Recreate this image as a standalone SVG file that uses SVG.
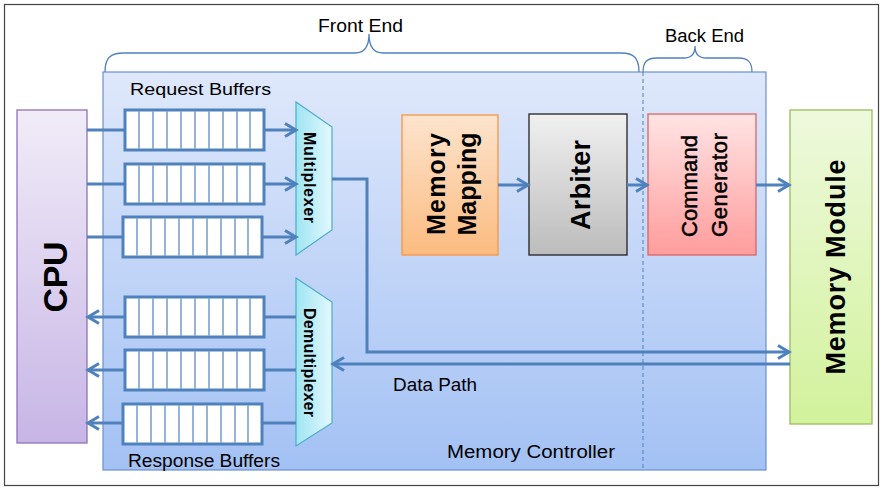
<svg xmlns="http://www.w3.org/2000/svg" width="882" height="489" viewBox="0 0 882 489">
<style>
.lbl{font-family:"Liberation Sans",Arial,sans-serif;fill:#000}
.bold{font-family:"Liberation Sans",Arial,sans-serif;font-weight:bold;fill:#000}
.conn{stroke:#4f81bd;stroke-width:3;fill:none}
.brace{stroke:#4f81bd;stroke-width:1.3;fill:none}
.bufo{fill:#fff;stroke:#4f81bd;stroke-width:3}
.bufd{stroke:#4f81bd;stroke-width:1.2}
</style>
<defs>
<linearGradient id="gMC" x1="0" y1="0" x2="0" y2="1"><stop offset="0" stop-color="#dfe8fb"/><stop offset="1" stop-color="#a3c1f4"/></linearGradient>
<linearGradient id="gCPU" x1="0" y1="0" x2="0" y2="1"><stop offset="0" stop-color="#f1ecf8"/><stop offset="1" stop-color="#c7b5e6"/></linearGradient>
<linearGradient id="gMM" x1="0" y1="0" x2="0" y2="1"><stop offset="0" stop-color="#eef9dd"/><stop offset="1" stop-color="#d2f29c"/></linearGradient>
<linearGradient id="gMap" x1="0" y1="0" x2="0" y2="1"><stop offset="0" stop-color="#fde4cd"/><stop offset="1" stop-color="#fbbb80"/></linearGradient>
<linearGradient id="gArb" x1="0" y1="0" x2="0" y2="1"><stop offset="0" stop-color="#f0f0f0"/><stop offset="1" stop-color="#bcbcbc"/></linearGradient>
<linearGradient id="gCG" x1="0" y1="0" x2="0" y2="1"><stop offset="0" stop-color="#ffe4e4"/><stop offset="1" stop-color="#ff9c9c"/></linearGradient>
<linearGradient id="gMux" x1="0" y1="0" x2="1" y2="0"><stop offset="0" stop-color="#9fe5f3"/><stop offset="1" stop-color="#e2f8fd"/></linearGradient>
<marker id="arr" markerUnits="userSpaceOnUse" viewBox="0 0 16 16" markerWidth="16" markerHeight="16" refX="13" refY="8" orient="auto">
<path d="M2,1.5 L13,8 L2,14.5" fill="none" stroke="#4f81bd" stroke-width="3"/>
</marker>
<g id="buf">
<rect class="bufo" x="0" y="0" width="139" height="40"/>
<g class="bufd">
<line x1="14" y1="1.5" x2="14" y2="38.5"/><line x1="28" y1="1.5" x2="28" y2="38.5"/><line x1="42" y1="1.5" x2="42" y2="38.5"/>
<line x1="56" y1="1.5" x2="56" y2="38.5"/><line x1="70" y1="1.5" x2="70" y2="38.5"/><line x1="84" y1="1.5" x2="84" y2="38.5"/>
<line x1="98" y1="1.5" x2="98" y2="38.5"/><line x1="112" y1="1.5" x2="112" y2="38.5"/><line x1="125" y1="1.5" x2="125" y2="38.5"/>
</g>
</g>
</defs>

<rect x="4.5" y="4.5" width="874" height="481" fill="#fff" stroke="#444" stroke-width="1.2"/>

<g id="braces">
<path class="brace" d="M105,72 C105,58 110,53 124,53 L355,53 C364,53 369,47 369,34 C369,47 374,53 383,53 L621,53 C634,53 639,58 639,72"/>
<path class="brace" d="M643,72 C643,62 647,58 657,58 L684,58 C691,58 695,54 695,46 C695,54 699,58 706,58 L739,58 C748,58 752,62 752,72"/>
<text class="lbl" x="318" y="32" textLength="85" lengthAdjust="spacingAndGlyphs" font-size="17.5">Front End</text>
<text class="lbl" x="665" y="42" textLength="79" lengthAdjust="spacingAndGlyphs" font-size="17.5">Back End</text>
</g>

<g id="memory-controller">
<rect x="103" y="72" width="663" height="398" fill="url(#gMC)" stroke="#6990d0" stroke-width="1.2"/>
<line x1="643" y1="72" x2="643" y2="468" stroke="#4f81bd" stroke-width="1" stroke-dasharray="4 3"/>
<text class="lbl" x="447" y="458" textLength="168" lengthAdjust="spacingAndGlyphs" font-size="17.5">Memory Controller</text>
</g>

<g id="cpu">
<rect x="17" y="110" width="70" height="333" fill="url(#gCPU)" stroke="#8e72b8" stroke-width="1.3"/>
<text class="bold" transform="translate(67,277) rotate(-90)" text-anchor="middle" font-size="34" textLength="71">CPU</text>
</g>

<g id="memory-module">
<rect x="790" y="110" width="82" height="314" fill="url(#gMM)" stroke="#9bbb59" stroke-width="1.3"/>
<text class="bold" transform="translate(845,267) rotate(-90)" text-anchor="middle" font-size="27" textLength="215">Memory Module</text>
</g>

<g id="request-buffers">
<text class="lbl" x="130" y="95" textLength="141" lengthAdjust="spacingAndGlyphs" font-size="17">Request Buffers</text>
<use href="#buf" x="125" y="110"/>
<use href="#buf" x="125" y="164"/>
<use href="#buf" x="123" y="217"/>
</g>

<g id="response-buffers">
<use href="#buf" x="125" y="297"/>
<use href="#buf" x="125" y="350"/>
<use href="#buf" x="123" y="404"/>
<text class="lbl" x="128" y="467" textLength="152" lengthAdjust="spacingAndGlyphs" font-size="17.5">Response Buffers</text>
</g>

<g id="multiplexer">
<polygon points="296,102 332,127 332,230 296,255" fill="url(#gMux)" stroke="#4bacc6" stroke-width="1.2"/>
<text class="bold" transform="translate(304,177.5) rotate(90)" text-anchor="middle" font-size="16" textLength="91">Multiplexer</text>
</g>

<g id="demultiplexer">
<polygon points="296,278 332,302 332,423 296,446" fill="url(#gMux)" stroke="#4bacc6" stroke-width="1.2"/>
<text class="bold" transform="translate(304,362.5) rotate(90)" text-anchor="middle" font-size="16" textLength="109">Demultiplexer</text>
</g>

<g id="memory-mapping">
<rect x="402" y="115" width="96" height="140" fill="url(#gMap)" stroke="#f79646" stroke-width="1.3"/>
<text class="bold" transform="translate(445,184) rotate(-90)" text-anchor="middle" font-size="25" textLength="102">Memory</text>
<text class="bold" transform="translate(476,184) rotate(-90)" text-anchor="middle" font-size="25" textLength="103">Mapping</text>
</g>

<g id="arbiter">
<rect x="529" y="114" width="98" height="141" fill="url(#gArb)" stroke="#222" stroke-width="1.3"/>
<text class="bold" transform="translate(590,185) rotate(-90)" text-anchor="middle" font-size="27" textLength="90">Arbiter</text>
</g>

<g id="command-generator">
<rect x="648" y="114" width="108" height="141" fill="url(#gCG)" stroke="#d56767" stroke-width="1.3"/>
<text class="lbl" transform="translate(697,186) rotate(-90)" text-anchor="middle" font-size="22" textLength="102" stroke="#000" stroke-width="0.5">Command</text>
<text class="lbl" transform="translate(727,185) rotate(-90)" text-anchor="middle" font-size="22" textLength="104" stroke="#000" stroke-width="0.5">Generator</text>
</g>

<g id="connectors">
<line class="conn" x1="87" y1="130" x2="125" y2="130"/>
<line class="conn" x1="87" y1="184" x2="125" y2="184"/>
<line class="conn" x1="87" y1="237" x2="123" y2="237"/>
<line class="conn" x1="264" y1="130" x2="296" y2="130" marker-end="url(#arr)"/>
<line class="conn" x1="264" y1="184" x2="296" y2="184" marker-end="url(#arr)"/>
<line class="conn" x1="262" y1="237" x2="296" y2="237" marker-end="url(#arr)"/>
<line class="conn" x1="296" y1="317" x2="264" y2="317"/>
<line class="conn" x1="296" y1="370" x2="264" y2="370"/>
<line class="conn" x1="296" y1="423" x2="262" y2="423"/>
<line class="conn" x1="125" y1="317" x2="88" y2="317" marker-end="url(#arr)"/>
<line class="conn" x1="125" y1="370" x2="88" y2="370" marker-end="url(#arr)"/>
<line class="conn" x1="123" y1="423" x2="88" y2="423" marker-end="url(#arr)"/>
<polyline class="conn" points="332,179 367,179 367,352 789,352" marker-end="url(#arr)"/>
<line class="conn" x1="790" y1="364" x2="333" y2="364" marker-end="url(#arr)"/>
<line class="conn" x1="498" y1="185" x2="528" y2="185" marker-end="url(#arr)"/>
<line class="conn" x1="627" y1="185" x2="647" y2="185" marker-end="url(#arr)"/>
<line class="conn" x1="756" y1="185" x2="789" y2="185" marker-end="url(#arr)"/>
<text class="lbl" x="393" y="391" textLength="84" lengthAdjust="spacingAndGlyphs" font-size="17.5">Data Path</text>
</g>
</svg>
